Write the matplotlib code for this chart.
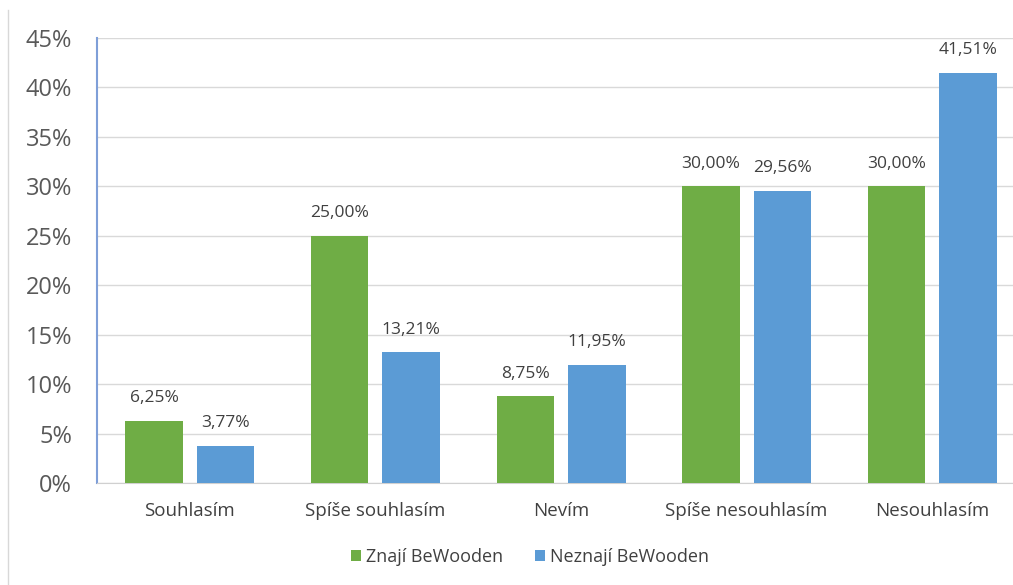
import matplotlib.pyplot as plt
import numpy as np
from matplotlib.lines import Line2D

plt.rcParams['font.family'] = ['Open Sans', 'DejaVu Sans']

categories = ['Souhlasím', 'Spíše souhlasím', 'Nevím', 'Spíše nesouhlasím', 'Nesouhlasím']
znaji = [6.25, 25.00, 8.75, 30.00, 30.00]
neznaji = [3.77, 13.21, 11.95, 29.56, 41.51]
series_names = ['Znají BeWooden', 'Neznají BeWooden']
yticks = [0, 5, 10, 15, 20, 25, 30, 35, 40, 45]

green = '#6fad45'
blue = '#5b9bd5'
grey_text = '#595959'

fig = plt.figure(figsize=(10.13, 5.85), dpi=100)
ax = fig.add_axes([97 / 1013, 1 - 483 / 585, 916 / 1013, 445 / 585])

x = np.arange(len(categories))
w = 0.31
off = 0.385 / 2
b1 = ax.bar(x - off, znaji, w, color=green, zorder=3, label=series_names[0])
b2 = ax.bar(x + off, neznaji, w, color=blue, zorder=3, label=series_names[1])

for bars, vals in ((b1, znaji), (b2, neznaji)):
    for bar, v in zip(bars, vals):
        ax.text(bar.get_x() + bar.get_width() / 2, v + 1.5, f'{v:.2f}%'.replace('.', ','),
                ha='center', va='bottom', fontsize=12.5, color='#404040')

ax.set_ylim(0, 45)
ax.set_xlim(-0.5, 4.435)
ax.set_yticks(yticks)
ax.set_yticklabels([f'{t}%' for t in yticks], fontsize=17, color=grey_text)
ax.set_xticks(x)
ax.set_xticklabels(categories, fontsize=13.5, color='#404040')
ax.tick_params(axis='y', length=0, pad=18)
ax.tick_params(axis='x', length=0, pad=14)
ax.grid(axis='y', color='#d9d9d9', linewidth=1, zorder=0)
for s in ['top', 'right']:
    ax.spines[s].set_visible(False)
ax.spines['left'].set_color('#7f9fd8')
ax.spines['left'].set_linewidth(1.5)
ax.spines['bottom'].set_color('#d0d0d0')

leg = fig.legend(handles=[b1, b2], loc='center', bbox_to_anchor=(530 / 1013, 1 - 557 / 585),
                 ncol=2, frameon=False, fontsize=13, handlelength=0.55, handleheight=0.55,
                 handletextpad=0.25, columnspacing=1.8)
for t in leg.get_texts():
    t.set_color('#404040')

# picture border on the left
fig.add_artist(Line2D([8 / 1013, 8 / 1013], [0, 1 - 10 / 585], color='#d8d8d8', linewidth=1))

fig.savefig('out.png', dpi=100)
